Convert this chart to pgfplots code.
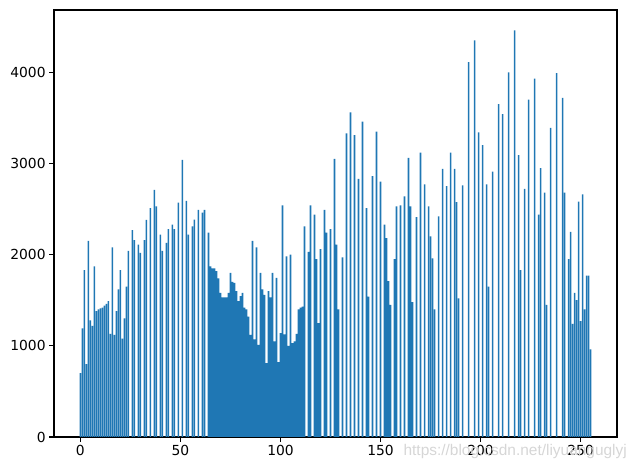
\documentclass[border=0pt]{standalone}
\usepackage{fontspec}
\setmainfont{DejaVu Sans}
\newfontfamily\wmfont{Liberation Sans}
\usepackage{pgfplots}
\pgfplotsset{compat=1.18}
\usepackage{pgfplotstable}
\definecolor{mplblue}{HTML}{1F77B4}
\pgfplotstableread{
x y
0 700
1 1190
2 1830
3 800
4 2150
5 1280
6 1220
7 1870
8 1380
9 1400
10 1410
11 1420
12 1440
13 1460
14 1490
15 1130
16 2080
17 1120
18 1380
19 1620
20 1830
21 1080
22 1300
23 1650
24 2040
25 0
26 2270
27 2160
28 0
29 2110
30 2020
31 0
32 2160
33 2380
34 0
35 2510
36 0
37 2710
38 2530
39 0
40 2220
41 2040
42 0
43 2130
44 2280
45 0
46 2330
47 2280
48 0
49 2570
50 0
51 3040
52 0
53 2590
54 2220
55 0
56 2310
57 2385
58 0
59 2490
60 0
61 2460
62 2490
63 0
64 2240
65 1870
66 1850
67 1850
68 1820
69 1740
70 1580
71 1530
72 1530
73 1530
74 1580
75 1800
76 1700
77 1690
78 1600
79 1490
80 1545
81 1580
82 1420
83 1400
84 1320
85 1120
86 2150
87 1070
88 2080
89 1010
90 1800
91 1620
92 1560
93 810
94 1600
95 1530
96 1800
97 1050
98 1745
99 820
100 1140
101 2540
102 1125
103 1980
104 1000
105 2000
106 1030
107 1050
108 1130
109 1400
110 1420
111 1430
112 2310
113 0
114 2030
115 2540
116 0
117 2440
118 1950
119 1250
120 2060
121 0
122 2490
123 2240
124 0
125 2280
126 0
127 3050
128 2110
129 1400
130 0
131 1970
132 0
133 3330
134 0
135 3560
136 0
137 3310
138 0
139 2830
140 0
141 3460
142 0
143 2510
144 1540
145 0
146 2860
147 0
148 3350
149 0
150 2800
151 0
152 2330
153 2180
154 1710
155 1450
156 0
157 1950
158 2530
159 0
160 2540
161 0
162 2640
163 0
164 3060
165 2530
166 1480
167 0
168 2410
169 0
170 3120
171 0
172 2770
173 0
174 2530
175 2200
176 1960
177 1400
178 0
179 2420
180 0
181 2940
182 0
183 2750
184 0
185 3120
186 0
187 2940
188 2575
189 1520
190 0
191 2760
192 0
193 0
194 4110
195 0
196 0
197 4350
198 0
199 3340
200 0
201 3200
202 0
203 2770
204 1650
205 0
206 2910
207 0
208 0
209 3650
210 0
211 3540
212 0
213 0
214 4000
215 0
216 0
217 4460
218 0
219 3090
220 1830
221 0
222 2720
223 0
224 3700
225 0
226 0
227 3930
228 0
229 2440
230 2950
231 0
232 2680
233 1450
234 0
235 3390
236 0
237 0
238 3990
239 0
240 0
241 3720
242 2680
243 0
244 1950
245 2250
246 1240
247 1580
248 1500
249 2580
250 1270
251 2660
252 1400
253 1770
254 1770
255 960
}\histdata

\begin{document}
\begin{tikzpicture}[x=1bp,y=1bp]
\path[use as bounding box] (0,0) rectangle (631,467);
\begin{axis}[
  at={(54bp,30bp)}, anchor=south west,
  scale only axis, width=563bp, height=427bp,
  xmin=-13.19, xmax=268.19, ymin=0, ymax=4683,
  xtick={0,50,...,250}, ytick={0,1000,...,4000},
  tick align=outside, tick pos=left,
  major tick length=4.86bp,
  axis line style={line width=1.11bp},
  every tick/.style={black, line width=1.11bp},
  tick label style={font=\fontsize{13.9}{16}\selectfont},
  /pgf/number format/assume math mode=true,
  /pgf/number format/1000 sep={},
  scaled y ticks=false, scaled x ticks=false,
  ybar, bar width=0.8,
]
\addplot[fill=mplblue, draw=none] table[x=x,y=y]{\histdata};
\end{axis}
\node[anchor=east, text=black!16, font=\wmfont\fontsize{15.5}{17}\selectfont, inner sep=0pt] at (627,15) {https://blog.csdn.net/liyuanguglyj};
\end{tikzpicture}
\end{document}
